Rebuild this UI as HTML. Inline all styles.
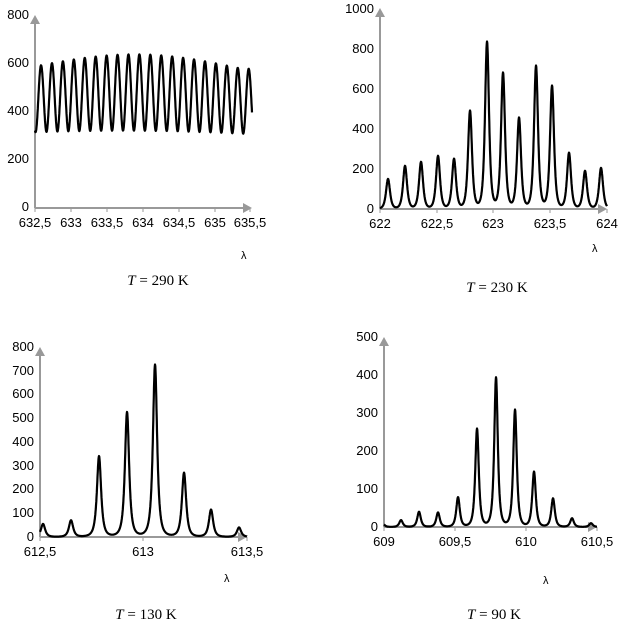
<!DOCTYPE html>
<html><head><meta charset="utf-8"><style>
body{margin:0;background:#fff;}
svg text{font-family:"Liberation Sans",Arial,sans-serif;font-size:13px;fill:#000;}
.cap{font-family:"Liberation Serif",serif;font-size:15px;}
</style></head><body>
<svg id="s" width="634" height="625" xmlns="http://www.w3.org/2000/svg">
<g id="g"></g>
<text class="cap" x="158" y="285" text-anchor="middle"><tspan font-style="italic">T</tspan> = 290 K</text>
<text class="cap" x="497" y="292" text-anchor="middle"><tspan font-style="italic">T</tspan> = 230 K</text>
<text class="cap" x="146" y="619" text-anchor="middle"><tspan font-style="italic">T</tspan> = 130 K</text>
<text class="cap" x="494" y="619" text-anchor="middle"><tspan font-style="italic">T</tspan> = 90 K</text>
<text x="241" y="259" style="font-size:11px">λ</text>
<text x="592" y="252" style="font-size:11px">λ</text>
<text x="224" y="582" style="font-size:11px">λ</text>
<text x="543" y="584" style="font-size:11px">λ</text>
</svg>
<script>
var g=document.getElementById('g'),h='';
function axis(x0,y0,yTop,xEnd,yt,xt){
 h+='<line x1="'+x0+'" y1="'+y0+'" x2="'+x0+'" y2="'+(yTop+8)+'" stroke="#999" stroke-width="2"/>';
 h+='<polygon points="'+(x0-5)+','+(yTop+9)+' '+(x0+5)+','+(yTop+9)+' '+x0+','+yTop+'" fill="#999"/>';
 h+='<line x1="'+x0+'" y1="'+y0+'" x2="'+(xEnd-8)+'" y2="'+y0+'" stroke="#999" stroke-width="2"/>';
 h+='<polygon points="'+(xEnd-9)+','+(y0-5)+' '+(xEnd-9)+','+(y0+5)+' '+xEnd+','+y0+'" fill="#999"/>';
 yt.forEach(function(t){h+='<text x="'+(x0-6)+'" y="'+(t[1]+4)+'" text-anchor="end">'+t[0]+'</text>';});
 xt.forEach(function(t){h+='<line x1="'+t[1]+'" y1="'+y0+'" x2="'+t[1]+'" y2="'+(y0+4)+'" stroke="#999"/><text x="'+t[1]+'" y="'+(y0+19)+'" text-anchor="middle">'+t[0]+'</text>';});
}
function path(pts){h+='<path d="M'+pts.map(function(p){return p[0].toFixed(1)+','+p[1].toFixed(1)}).join(' L')+'" fill="none" stroke="#000" stroke-width="2.2" stroke-linejoin="round"/>';}
function lor(x0,x1,y0,k,peaks,w,pw){var p=[];for(var x=x0;x<=x1;x+=0.25){var v=0;peaks.forEach(function(q){var d=(x-q[0])/w;v+=q[1]/Math.pow(1+d*d,pw);});p.push([x,y0-v*k]);}path(p);}
// chart 1
axis(35,208,15,252,[['800',15],['600',63],['400',111],['200',159],['0',207]],
 [['632,5',35],['633',71],['633,5',107],['634',143],['634,5',179],['635',215],['635,5',250]]);
var p=[];for(var x=35;x<=252;x+=0.25){var u=(x-41)/10.93;var f=(x-35)/217;var pk=590+55*Math.sin(Math.PI*Math.min(1,f*1.05))-10*f;var tr=316+10*Math.sin(Math.PI*f)-8*f;var c=Math.cos(2*Math.PI*u);var v=(pk+tr)/2+(pk-tr)/2*c;p.push([x,208-v*0.24]);}path(p);
// chart 2
axis(380,209,8,607,[['1000',9],['800',49],['600',89],['400',129],['200',169],['0',209]],
 [['622',380],['622,5',437],['623',493],['623,5',550],['624',607]]);
lor(380,607,209,0.2,[[388,150],[405,215],[421,235],[438,265],[454,250],[470,490],[487,835],[503,680],[519,455],[536,715],[552,615],[569,280],[585,190],[601,205]],3.6,2);
// chart 3
axis(40,537,347,247,[['800',347],['700',371],['600',394],['500',418],['400',442],['300',466],['200',489],['100',513],['0',537]],
 [['612,5',40],['613',143],['613,5',247]]);
lor(40,247,537,0.2375,[[43,55],[71,70],[99,340],[127,525],[155,725],[184,270],[211,115],[239,40]],3.2,1.5);
// chart 4
axis(384,527,337,597,[['500',337],['400',375],['300',413],['200',451],['100',489],['0',527]],
 [['609',384],['609,5',455],['610',526],['610,5',597]]);
lor(384,597,527,0.38,[[383,8],[401,18],[419,40],[438,38],[458,78],[477,258],[496,393],[515,308],[534,145],[553,75],[572,23],[591,10]],2.8,1.6);
g.innerHTML=h;
</script>
</body></html>
